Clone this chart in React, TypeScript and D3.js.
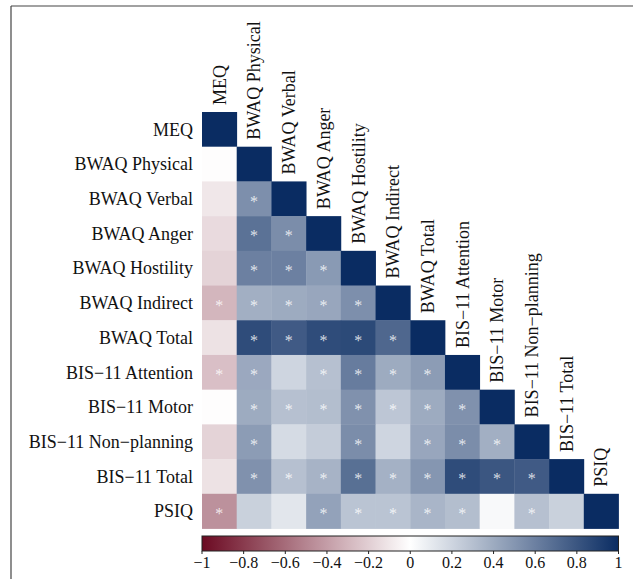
import React from 'react';
import * as d3 from 'd3';

const vars = [
  'MEQ', 'BWAQ Physical', 'BWAQ Verbal', 'BWAQ Anger', 'BWAQ Hostility', 'BWAQ Indirect',
  'BWAQ Total', 'BIS\u221211 Attention', 'BIS\u221211 Motor', 'BIS\u221211 Non\u2212planning',
  'BIS\u221211 Total', 'PSIQ'
];

// lower triangle, row i holds correlations with vars 0..i-1
const corr = [
  [],
  [-0.01],
  [-0.1, 0.53],
  [-0.15, 0.67, 0.54],
  [-0.18, 0.6, 0.6, 0.48],
  [-0.3, 0.38, 0.4, 0.42, 0.53],
  [-0.12, 0.85, 0.78, 0.85, 0.86, 0.72],
  [-0.26, 0.41, 0.2, 0.3, 0.62, 0.4, 0.47],
  [-0.01, 0.4, 0.3, 0.31, 0.52, 0.27, 0.4, 0.52],
  [-0.18, 0.47, 0.17, 0.24, 0.54, 0.2, 0.42, 0.54, 0.38],
  [-0.12, 0.52, 0.3, 0.36, 0.68, 0.37, 0.5, 0.85, 0.8, 0.78],
  [-0.45, 0.22, 0.12, 0.44, 0.28, 0.28, 0.35, 0.31, 0.03, 0.3, 0.22]
];

// 1 = significant (asterisk)
const sig = [
  [],
  [0],
  [0, 1],
  [0, 1, 1],
  [0, 1, 1, 1],
  [1, 1, 1, 1, 1],
  [0, 1, 1, 1, 1, 1],
  [1, 1, 0, 1, 1, 1, 1],
  [0, 1, 1, 1, 1, 1, 1, 1],
  [0, 1, 0, 0, 1, 0, 1, 1, 1],
  [0, 1, 1, 1, 1, 1, 1, 1, 1, 1],
  [1, 0, 0, 1, 1, 1, 1, 1, 0, 1, 0]
];

const barTicks = [-1, -0.8, -0.6, -0.4, -0.2, 0, 0.2, 0.4, 0.6, 0.8, 1];

const W = 633;
const H = 579;
const left = 202;
const top = 112;
const size = 416.5;
const font = '"Liberation Serif", "Times New Roman", serif';

const App = () => {
  const x = d3.scaleBand().domain(vars).range([left, left + size]);
  const y = d3.scaleBand().domain(vars).range([top, top + size]);
  const bw = x.bandwidth();

  const color = d3.scaleLinear<string>()
    .domain([-1, 0, 1])
    .range(['#6b0a22', '#ffffff', '#0a2c62'])
    .interpolate(d3.interpolateRgb);

  const barX = d3.scaleLinear().domain([-1, 1]).range([left, left + size]);
  const barTop = 536;
  const barH = 15;

  const cells: { r: number; c: number; v: number; s: number }[] = [];
  corr.forEach((row, r) => {
    row.forEach((v, c) => cells.push({ r, c, v, s: sig[r][c] }));
    cells.push({ r, c: r, v: 1, s: 0 });
  });

  const stops = d3.range(0, 21).map(i => -1 + i * 0.1);

  return (
    <svg width={W} height={H} style={{ position: 'absolute', left: 0, top: 0, background: '#fff' }}>
      <defs>
        <linearGradient id="cbar" x1="0" x2="1" y1="0" y2="0">
          {stops.map((s, i) => (
            <stop key={i} offset={(s + 1) / 2} stopColor={color(s)} />
          ))}
        </linearGradient>
      </defs>

      <line x1={11} x2={W} y1={6} y2={6} stroke="#444" strokeWidth={1.2} />
      <line x1={11} x2={11} y1={6} y2={H} stroke="#444" strokeWidth={1.2} />

      {cells.map((d, i) => (
        <rect key={i} x={x(vars[d.c])} y={y(vars[d.r])} width={bw + 0.4} height={bw + 0.4}
          fill={color(d.v)} />
      ))}

      {cells.filter(d => d.s).map((d, i) => (
        <text key={'s' + i} x={x(vars[d.c])! + bw / 2} y={y(vars[d.r])! + bw / 2 + 8}
          textAnchor="middle" fontFamily={font} fontSize={16} fill="#ffffff" fillOpacity={0.8}>*</text>
      ))}

      {vars.map((v, i) => (
        <text key={'r' + i} x={193} y={y(v)! + bw / 2} dy="0.35em" textAnchor="end"
          fontFamily={font} fontSize={18} fill="#111">{v}</text>
      ))}

      {vars.map((v, i) => {
        const cx = x(v)! + bw / 2;
        const cy = y(v)! - 7;
        return (
          <text key={'c' + i} transform={`translate(${cx},${cy}) rotate(-90)`} dy="0.35em"
            textAnchor="start" fontFamily={font} fontSize={18} fill="#111">{v}</text>
        );
      })}

      <rect x={left} y={barTop} width={size} height={barH} fill="url(#cbar)" stroke="#222" strokeWidth={1} />
      {barTicks.map((t, i) => (
        <g key={'t' + i}>
          <line x1={barX(t)} x2={barX(t)} y1={barTop + barH} y2={barTop + barH + 3} stroke="#222" strokeWidth={1} />
          <text x={barX(t)} y={568} textAnchor="middle" fontFamily={font} fontSize={16} fill="#111">
            {t < 0 ? '\u2212' + Math.abs(t) : String(t)}
          </text>
        </g>
      ))}
    </svg>
  );
};

export default App;
